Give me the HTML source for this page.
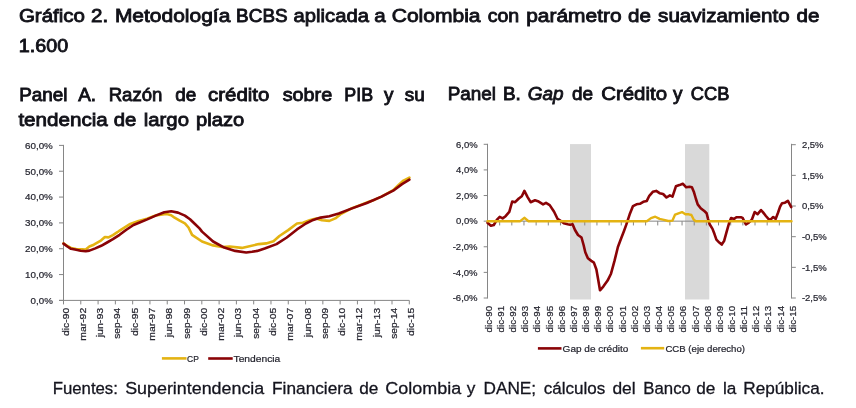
<!DOCTYPE html>
<html><head><meta charset="utf-8"><title>Gráfico 2</title>
<style>
html,body{margin:0;padding:0;background:#fff;}
body{width:856px;height:408px;overflow:hidden;}
svg{display:block;font-family:"Liberation Sans",Arial,sans-serif;}
</style></head><body>
<svg width="856" height="408" viewBox="0 0 856 408">
<rect width="856" height="408" fill="#fff"/>
<text x="18.90" y="21.8" font-size="18.5" font-style="normal" fill="#111118" stroke="#111118" stroke-width="0.85" textLength="66.16" lengthAdjust="spacingAndGlyphs">Gráfico</text>
<text x="91.07" y="21.8" font-size="18.5" font-style="normal" fill="#111118" stroke="#111118" stroke-width="0.85" textLength="17.14" lengthAdjust="spacingAndGlyphs">2.</text>
<text x="114.90" y="21.8" font-size="18.5" font-style="normal" fill="#111118" stroke="#111118" stroke-width="0.85" textLength="115.48" lengthAdjust="spacingAndGlyphs">Metodología</text>
<text x="236.14" y="21.8" font-size="18.5" font-style="normal" fill="#111118" stroke="#111118" stroke-width="0.85" textLength="51.49" lengthAdjust="spacingAndGlyphs">BCBS</text>
<text x="293.60" y="21.8" font-size="18.5" font-style="normal" fill="#111118" stroke="#111118" stroke-width="0.85" textLength="75.30" lengthAdjust="spacingAndGlyphs">aplicada</text>
<text x="374.25" y="21.8" font-size="18.5" font-style="normal" fill="#111118" stroke="#111118" stroke-width="0.85" textLength="11.43" lengthAdjust="spacingAndGlyphs">a</text>
<text x="391.70" y="21.8" font-size="18.5" font-style="normal" fill="#111118" stroke="#111118" stroke-width="0.85" textLength="88.88" lengthAdjust="spacingAndGlyphs">Colombia</text>
<text x="487.70" y="21.8" font-size="18.5" font-style="normal" fill="#111118" stroke="#111118" stroke-width="0.85" textLength="31.55" lengthAdjust="spacingAndGlyphs">con</text>
<text x="526.20" y="21.8" font-size="18.5" font-style="normal" fill="#111118" stroke="#111118" stroke-width="0.85" textLength="95.45" lengthAdjust="spacingAndGlyphs">parámetro</text>
<text x="628.14" y="21.8" font-size="18.5" font-style="normal" fill="#111118" stroke="#111118" stroke-width="0.85" textLength="22.86" lengthAdjust="spacingAndGlyphs">de</text>
<text x="658.10" y="21.8" font-size="18.5" font-style="normal" fill="#111118" stroke="#111118" stroke-width="0.85" textLength="131.55" lengthAdjust="spacingAndGlyphs">suavizamiento</text>
<text x="796.59" y="21.8" font-size="18.5" font-style="normal" fill="#111118" stroke="#111118" stroke-width="0.85" textLength="22.86" lengthAdjust="spacingAndGlyphs">de</text>
<text x="18.80" y="51.6" font-size="18.5" font-style="normal" fill="#111118" stroke="#111118" stroke-width="0.85" textLength="49.35" lengthAdjust="spacingAndGlyphs">1.600</text>
<text x="19.20" y="100.6" font-size="18.5" font-style="normal" fill="#111118" stroke="#111118" stroke-width="0.85" textLength="48.36" lengthAdjust="spacingAndGlyphs">Panel</text>
<text x="78.27" y="100.6" font-size="18.5" font-style="normal" fill="#111118" stroke="#111118" stroke-width="0.85" textLength="17.86" lengthAdjust="spacingAndGlyphs">A.</text>
<text x="108.70" y="100.6" font-size="18.5" font-style="normal" fill="#111118" stroke="#111118" stroke-width="0.85" textLength="53.71" lengthAdjust="spacingAndGlyphs">Razón</text>
<text x="175.36" y="100.6" font-size="18.5" font-style="normal" fill="#111118" stroke="#111118" stroke-width="0.85" textLength="21.03" lengthAdjust="spacingAndGlyphs">de</text>
<text x="208.07" y="100.6" font-size="18.5" font-style="normal" fill="#111118" stroke="#111118" stroke-width="0.85" textLength="61.29" lengthAdjust="spacingAndGlyphs">crédito</text>
<text x="282.70" y="100.6" font-size="18.5" font-style="normal" fill="#111118" stroke="#111118" stroke-width="0.85" textLength="49.53" lengthAdjust="spacingAndGlyphs">sobre</text>
<text x="344.30" y="100.6" font-size="18.5" font-style="normal" fill="#111118" stroke="#111118" stroke-width="0.85" textLength="28.83" lengthAdjust="spacingAndGlyphs">PIB</text>
<text x="384.12" y="100.6" font-size="18.5" font-style="normal" fill="#111118" stroke="#111118" stroke-width="0.85" textLength="9.45" lengthAdjust="spacingAndGlyphs">y</text>
<text x="404.83" y="100.6" font-size="18.5" font-style="normal" fill="#111118" stroke="#111118" stroke-width="0.85" textLength="19.97" lengthAdjust="spacingAndGlyphs">su</text>
<text x="18.40" y="126.2" font-size="18.5" font-style="normal" fill="#111118" stroke="#111118" stroke-width="0.85" textLength="89.44" lengthAdjust="spacingAndGlyphs">tendencia</text>
<text x="113.73" y="126.2" font-size="18.5" font-style="normal" fill="#111118" stroke="#111118" stroke-width="0.85" textLength="22.60" lengthAdjust="spacingAndGlyphs">de</text>
<text x="143.80" y="126.2" font-size="18.5" font-style="normal" fill="#111118" stroke="#111118" stroke-width="0.85" textLength="45.17" lengthAdjust="spacingAndGlyphs">largo</text>
<text x="196.00" y="126.2" font-size="18.5" font-style="normal" fill="#111118" stroke="#111118" stroke-width="0.85" textLength="48.21" lengthAdjust="spacingAndGlyphs">plazo</text>
<text x="447.70" y="100.4" font-size="18.5" font-style="normal" fill="#111118" stroke="#111118" stroke-width="0.85" textLength="48.36" lengthAdjust="spacingAndGlyphs">Panel</text>
<text x="502.91" y="100.4" font-size="18.5" font-style="normal" fill="#111118" stroke="#111118" stroke-width="0.85" textLength="17.88" lengthAdjust="spacingAndGlyphs">B.</text>
<text x="527.70" y="100.4" font-size="18.5" font-style="italic" fill="#111118" stroke="#111118" stroke-width="0.85" textLength="35.80" lengthAdjust="spacingAndGlyphs">Gap</text>
<text x="571.90" y="100.4" font-size="18.5" font-style="normal" fill="#111118" stroke="#111118" stroke-width="0.85" textLength="21.05" lengthAdjust="spacingAndGlyphs">de</text>
<text x="601.19" y="100.4" font-size="18.5" font-style="normal" fill="#111118" stroke="#111118" stroke-width="0.85" textLength="65.89" lengthAdjust="spacingAndGlyphs">Crédito</text>
<text x="673.12" y="100.4" font-size="18.5" font-style="normal" fill="#111118" stroke="#111118" stroke-width="0.85" textLength="9.46" lengthAdjust="spacingAndGlyphs">y</text>
<text x="690.80" y="100.4" font-size="18.5" font-style="normal" fill="#111118" stroke="#111118" stroke-width="0.85" textLength="38.63" lengthAdjust="spacingAndGlyphs">CCB</text>
<text x="52.70" y="393.7" font-size="17.4" font-style="normal" fill="#14141e" stroke="#14141e" stroke-width="0.3" textLength="65.22" lengthAdjust="spacingAndGlyphs">Fuentes:</text>
<text x="125.20" y="393.7" font-size="17.4" font-style="normal" fill="#14141e" stroke="#14141e" stroke-width="0.3" textLength="139.09" lengthAdjust="spacingAndGlyphs">Superintendencia</text>
<text x="272.10" y="393.7" font-size="17.4" font-style="normal" fill="#14141e" stroke="#14141e" stroke-width="0.3" textLength="80.50" lengthAdjust="spacingAndGlyphs">Financiera</text>
<text x="359.29" y="393.7" font-size="17.4" font-style="normal" fill="#14141e" stroke="#14141e" stroke-width="0.3" textLength="19.15" lengthAdjust="spacingAndGlyphs">de</text>
<text x="385.30" y="393.7" font-size="17.4" font-style="normal" fill="#14141e" stroke="#14141e" stroke-width="0.3" textLength="75.90" lengthAdjust="spacingAndGlyphs">Colombia</text>
<text x="466.80" y="393.7" font-size="17.4" font-style="normal" fill="#14141e" stroke="#14141e" stroke-width="0.3" textLength="8.61" lengthAdjust="spacingAndGlyphs">y</text>
<text x="483.50" y="393.7" font-size="17.4" font-style="normal" fill="#14141e" stroke="#14141e" stroke-width="0.3" textLength="52.62" lengthAdjust="spacingAndGlyphs">DANE;</text>
<text x="543.80" y="393.7" font-size="17.4" font-style="normal" fill="#14141e" stroke="#14141e" stroke-width="0.3" textLength="61.56" lengthAdjust="spacingAndGlyphs">cálculos</text>
<text x="612.40" y="393.7" font-size="17.4" font-style="normal" fill="#14141e" stroke="#14141e" stroke-width="0.3" textLength="23.19" lengthAdjust="spacingAndGlyphs">del</text>
<text x="643.30" y="393.7" font-size="17.4" font-style="normal" fill="#14141e" stroke="#14141e" stroke-width="0.3" textLength="47.61" lengthAdjust="spacingAndGlyphs">Banco</text>
<text x="696.29" y="393.7" font-size="17.4" font-style="normal" fill="#14141e" stroke="#14141e" stroke-width="0.3" textLength="19.15" lengthAdjust="spacingAndGlyphs">de</text>
<text x="722.89" y="393.7" font-size="17.4" font-style="normal" fill="#14141e" stroke="#14141e" stroke-width="0.3" textLength="13.40" lengthAdjust="spacingAndGlyphs">la</text>
<text x="743.30" y="393.7" font-size="17.4" font-style="normal" fill="#14141e" stroke="#14141e" stroke-width="0.3" textLength="81.20" lengthAdjust="spacingAndGlyphs">República.</text>
<line x1="63.5" y1="144.9" x2="63.5" y2="304.4" stroke="#868686" stroke-width="1"/>
<line x1="59.0" y1="300.4" x2="409.3" y2="300.4" stroke="#868686" stroke-width="1"/>
<line x1="59.0" y1="300.4" x2="63.5" y2="300.4" stroke="#868686" stroke-width="1"/>
<text x="52.80" y="303.80" text-anchor="end" font-size="9.7" fill="#262630" stroke="#262630" stroke-width="0.22" textLength="22.2" lengthAdjust="spacingAndGlyphs">0,0%</text>
<line x1="59.0" y1="274.56666666666666" x2="63.5" y2="274.56666666666666" stroke="#868686" stroke-width="1"/>
<text x="52.80" y="277.97" text-anchor="end" font-size="9.7" fill="#262630" stroke="#262630" stroke-width="0.22" textLength="27.8" lengthAdjust="spacingAndGlyphs">10,0%</text>
<line x1="59.0" y1="248.73333333333332" x2="63.5" y2="248.73333333333332" stroke="#868686" stroke-width="1"/>
<text x="52.80" y="252.13" text-anchor="end" font-size="9.7" fill="#262630" stroke="#262630" stroke-width="0.22" textLength="27.8" lengthAdjust="spacingAndGlyphs">20,0%</text>
<line x1="59.0" y1="222.89999999999998" x2="63.5" y2="222.89999999999998" stroke="#868686" stroke-width="1"/>
<text x="52.80" y="226.30" text-anchor="end" font-size="9.7" fill="#262630" stroke="#262630" stroke-width="0.22" textLength="27.8" lengthAdjust="spacingAndGlyphs">30,0%</text>
<line x1="59.0" y1="197.06666666666666" x2="63.5" y2="197.06666666666666" stroke="#868686" stroke-width="1"/>
<text x="52.80" y="200.47" text-anchor="end" font-size="9.7" fill="#262630" stroke="#262630" stroke-width="0.22" textLength="27.8" lengthAdjust="spacingAndGlyphs">40,0%</text>
<line x1="59.0" y1="171.23333333333332" x2="63.5" y2="171.23333333333332" stroke="#868686" stroke-width="1"/>
<text x="52.80" y="174.63" text-anchor="end" font-size="9.7" fill="#262630" stroke="#262630" stroke-width="0.22" textLength="27.8" lengthAdjust="spacingAndGlyphs">50,0%</text>
<line x1="59.0" y1="145.4" x2="63.5" y2="145.4" stroke="#868686" stroke-width="1"/>
<text x="52.80" y="148.80" text-anchor="end" font-size="9.7" fill="#262630" stroke="#262630" stroke-width="0.22" textLength="27.8" lengthAdjust="spacingAndGlyphs">60,0%</text>
<text transform="translate(68.50,307.80) rotate(-90)" text-anchor="end" font-size="9.7" fill="#262630" stroke="#262630" stroke-width="0.22" textLength="28.2" lengthAdjust="spacingAndGlyphs">dic-90</text>
<line x1="80.78999999999999" y1="300.4" x2="80.78999999999999" y2="304.4" stroke="#868686" stroke-width="1"/>
<text transform="translate(85.79,307.80) rotate(-90)" text-anchor="end" font-size="9.7" fill="#262630" stroke="#262630" stroke-width="0.22" textLength="33.0" lengthAdjust="spacingAndGlyphs">mar-92</text>
<line x1="98.08" y1="300.4" x2="98.08" y2="304.4" stroke="#868686" stroke-width="1"/>
<text transform="translate(103.08,307.80) rotate(-90)" text-anchor="end" font-size="9.7" fill="#262630" stroke="#262630" stroke-width="0.22" textLength="29.5" lengthAdjust="spacingAndGlyphs">jun-93</text>
<line x1="115.37" y1="300.4" x2="115.37" y2="304.4" stroke="#868686" stroke-width="1"/>
<text transform="translate(120.37,307.80) rotate(-90)" text-anchor="end" font-size="9.7" fill="#262630" stroke="#262630" stroke-width="0.22" textLength="30.9" lengthAdjust="spacingAndGlyphs">sep-94</text>
<line x1="132.66" y1="300.4" x2="132.66" y2="304.4" stroke="#868686" stroke-width="1"/>
<text transform="translate(137.66,307.80) rotate(-90)" text-anchor="end" font-size="9.7" fill="#262630" stroke="#262630" stroke-width="0.22" textLength="28.2" lengthAdjust="spacingAndGlyphs">dic-95</text>
<line x1="149.95" y1="300.4" x2="149.95" y2="304.4" stroke="#868686" stroke-width="1"/>
<text transform="translate(154.95,307.80) rotate(-90)" text-anchor="end" font-size="9.7" fill="#262630" stroke="#262630" stroke-width="0.22" textLength="33.0" lengthAdjust="spacingAndGlyphs">mar-97</text>
<line x1="167.24" y1="300.4" x2="167.24" y2="304.4" stroke="#868686" stroke-width="1"/>
<text transform="translate(172.24,307.80) rotate(-90)" text-anchor="end" font-size="9.7" fill="#262630" stroke="#262630" stroke-width="0.22" textLength="29.5" lengthAdjust="spacingAndGlyphs">jun-98</text>
<line x1="184.53" y1="300.4" x2="184.53" y2="304.4" stroke="#868686" stroke-width="1"/>
<text transform="translate(189.53,307.80) rotate(-90)" text-anchor="end" font-size="9.7" fill="#262630" stroke="#262630" stroke-width="0.22" textLength="30.9" lengthAdjust="spacingAndGlyphs">sep-99</text>
<line x1="201.82" y1="300.4" x2="201.82" y2="304.4" stroke="#868686" stroke-width="1"/>
<text transform="translate(206.82,307.80) rotate(-90)" text-anchor="end" font-size="9.7" fill="#262630" stroke="#262630" stroke-width="0.22" textLength="28.2" lengthAdjust="spacingAndGlyphs">dic-00</text>
<line x1="219.11" y1="300.4" x2="219.11" y2="304.4" stroke="#868686" stroke-width="1"/>
<text transform="translate(224.11,307.80) rotate(-90)" text-anchor="end" font-size="9.7" fill="#262630" stroke="#262630" stroke-width="0.22" textLength="33.0" lengthAdjust="spacingAndGlyphs">mar-02</text>
<line x1="236.4" y1="300.4" x2="236.4" y2="304.4" stroke="#868686" stroke-width="1"/>
<text transform="translate(241.40,307.80) rotate(-90)" text-anchor="end" font-size="9.7" fill="#262630" stroke="#262630" stroke-width="0.22" textLength="29.5" lengthAdjust="spacingAndGlyphs">jun-03</text>
<line x1="253.69" y1="300.4" x2="253.69" y2="304.4" stroke="#868686" stroke-width="1"/>
<text transform="translate(258.69,307.80) rotate(-90)" text-anchor="end" font-size="9.7" fill="#262630" stroke="#262630" stroke-width="0.22" textLength="30.9" lengthAdjust="spacingAndGlyphs">sep-04</text>
<line x1="270.98" y1="300.4" x2="270.98" y2="304.4" stroke="#868686" stroke-width="1"/>
<text transform="translate(275.98,307.80) rotate(-90)" text-anchor="end" font-size="9.7" fill="#262630" stroke="#262630" stroke-width="0.22" textLength="28.2" lengthAdjust="spacingAndGlyphs">dic-05</text>
<line x1="288.27000000000004" y1="300.4" x2="288.27000000000004" y2="304.4" stroke="#868686" stroke-width="1"/>
<text transform="translate(293.27,307.80) rotate(-90)" text-anchor="end" font-size="9.7" fill="#262630" stroke="#262630" stroke-width="0.22" textLength="33.0" lengthAdjust="spacingAndGlyphs">mar-07</text>
<line x1="305.56" y1="300.4" x2="305.56" y2="304.4" stroke="#868686" stroke-width="1"/>
<text transform="translate(310.56,307.80) rotate(-90)" text-anchor="end" font-size="9.7" fill="#262630" stroke="#262630" stroke-width="0.22" textLength="29.5" lengthAdjust="spacingAndGlyphs">jun-08</text>
<line x1="322.85" y1="300.4" x2="322.85" y2="304.4" stroke="#868686" stroke-width="1"/>
<text transform="translate(327.85,307.80) rotate(-90)" text-anchor="end" font-size="9.7" fill="#262630" stroke="#262630" stroke-width="0.22" textLength="30.9" lengthAdjust="spacingAndGlyphs">sep-09</text>
<line x1="340.14" y1="300.4" x2="340.14" y2="304.4" stroke="#868686" stroke-width="1"/>
<text transform="translate(345.14,307.80) rotate(-90)" text-anchor="end" font-size="9.7" fill="#262630" stroke="#262630" stroke-width="0.22" textLength="28.2" lengthAdjust="spacingAndGlyphs">dic-10</text>
<line x1="357.43" y1="300.4" x2="357.43" y2="304.4" stroke="#868686" stroke-width="1"/>
<text transform="translate(362.43,307.80) rotate(-90)" text-anchor="end" font-size="9.7" fill="#262630" stroke="#262630" stroke-width="0.22" textLength="33.0" lengthAdjust="spacingAndGlyphs">mar-12</text>
<line x1="374.72" y1="300.4" x2="374.72" y2="304.4" stroke="#868686" stroke-width="1"/>
<text transform="translate(379.72,307.80) rotate(-90)" text-anchor="end" font-size="9.7" fill="#262630" stroke="#262630" stroke-width="0.22" textLength="29.5" lengthAdjust="spacingAndGlyphs">jun-13</text>
<line x1="392.01" y1="300.4" x2="392.01" y2="304.4" stroke="#868686" stroke-width="1"/>
<text transform="translate(397.01,307.80) rotate(-90)" text-anchor="end" font-size="9.7" fill="#262630" stroke="#262630" stroke-width="0.22" textLength="30.9" lengthAdjust="spacingAndGlyphs">sep-14</text>
<line x1="409.3" y1="300.4" x2="409.3" y2="304.4" stroke="#868686" stroke-width="1"/>
<text transform="translate(414.30,307.80) rotate(-90)" text-anchor="end" font-size="9.7" fill="#262630" stroke="#262630" stroke-width="0.22" textLength="28.2" lengthAdjust="spacingAndGlyphs">dic-15</text>
<polyline points="63.5,243.4 67.4,246.0 71.0,248.0 76.2,249.0 82.0,249.3 85.7,249.5 89.4,246.5 93.8,244.7 98.2,242.1 101.2,240.3 104.9,237.0 108.5,237.4 112.9,235.1 117.4,232.2 120.0,230.4 129.5,224.3 138.6,221.0 147.0,218.8 155.7,215.4 164.3,214.3 167.7,214.3 171.2,215.2 174.6,217.7 179.7,220.7 184.9,223.3 188.5,227.5 192.1,234.9 202.0,241.5 213.1,245.4 222.0,247.0 229.7,246.5 241.8,247.9 248.4,246.5 258.8,244.1 266.2,243.4 273.5,241.2 279.4,236.0 288.2,230.1 297.0,223.5 302.9,222.8 310.3,219.9 316.2,218.4 322.0,220.3 329.4,220.9 335.3,218.4 340.3,214.4 352.0,208.2 362.0,204.4 367.5,202.2 374.1,199.9 381.5,196.6 393.2,190.2 399.1,184.4 403.5,180.6 409.4,177.6" fill="none" stroke="#e4b312" stroke-width="2.6" stroke-linejoin="round" stroke-linecap="round"/>
<polyline points="63.5,243.6 67.4,246.5 71.0,248.8 76.2,249.7 80.6,250.7 85.7,251.2 89.4,250.6 95.3,248.4 101.2,245.8 107.1,242.5 112.9,239.2 119.6,234.8 126.0,230.0 133.5,225.0 139.0,222.8 147.2,219.4 155.7,215.6 164.3,212.2 171.2,211.3 178.0,212.6 184.9,215.6 190.0,219.2 195.2,224.2 199.5,228.4 202.0,231.6 213.1,241.5 224.2,247.6 235.2,250.9 246.2,252.5 252.0,251.8 257.3,250.9 264.7,248.5 276.5,244.1 286.8,237.5 297.0,229.4 305.9,223.5 313.2,219.9 320.6,217.6 329.4,216.3 338.8,213.5 352.0,208.4 366.8,203.0 381.5,196.6 393.2,190.7 402.0,184.1 409.4,179.7" fill="none" stroke="#8a0306" stroke-width="2.6" stroke-linejoin="round" stroke-linecap="round"/>
<line x1="161.9" y1="358.4" x2="186.5" y2="358.4" stroke="#e4b312" stroke-width="2.6"/>
<text x="187.00" y="361.90" text-anchor="start" font-size="9.7" fill="#262630" stroke="#262630" stroke-width="0.22" textLength="11.8" lengthAdjust="spacingAndGlyphs">CP</text>
<line x1="208.2" y1="358.5" x2="232.7" y2="358.5" stroke="#8a0306" stroke-width="2.6"/>
<text x="233.50" y="361.90" text-anchor="start" font-size="9.7" fill="#262630" stroke="#262630" stroke-width="0.22" textLength="46.8" lengthAdjust="spacingAndGlyphs">Tendencia</text>
<rect x="570.0" y="144.1" width="21.0" height="155.4" fill="#d9d9d9"/>
<rect x="685.0" y="144.1" width="24.3" height="155.4" fill="#d9d9d9"/>
<line x1="487.5" y1="143.8" x2="487.5" y2="298.5" stroke="#868686" stroke-width="1"/>
<line x1="791.5" y1="143.8" x2="791.5" y2="298.5" stroke="#868686" stroke-width="1"/>
<line x1="483.7" y1="144.3" x2="487.5" y2="144.3" stroke="#868686" stroke-width="1"/>
<text x="477.60" y="147.60" text-anchor="end" font-size="9.7" fill="#262630" stroke="#262630" stroke-width="0.22" textLength="21.6" lengthAdjust="spacingAndGlyphs">6,0%</text>
<line x1="483.7" y1="169.91666666666669" x2="487.5" y2="169.91666666666669" stroke="#868686" stroke-width="1"/>
<text x="477.60" y="173.22" text-anchor="end" font-size="9.7" fill="#262630" stroke="#262630" stroke-width="0.22" textLength="21.6" lengthAdjust="spacingAndGlyphs">4,0%</text>
<line x1="483.7" y1="195.53333333333333" x2="487.5" y2="195.53333333333333" stroke="#868686" stroke-width="1"/>
<text x="477.60" y="198.83" text-anchor="end" font-size="9.7" fill="#262630" stroke="#262630" stroke-width="0.22" textLength="21.6" lengthAdjust="spacingAndGlyphs">2,0%</text>
<line x1="483.7" y1="221.15" x2="487.5" y2="221.15" stroke="#868686" stroke-width="1"/>
<text x="477.60" y="224.45" text-anchor="end" font-size="9.7" fill="#262630" stroke="#262630" stroke-width="0.22" textLength="21.6" lengthAdjust="spacingAndGlyphs">0,0%</text>
<line x1="483.7" y1="246.76666666666665" x2="487.5" y2="246.76666666666665" stroke="#868686" stroke-width="1"/>
<text x="477.60" y="250.07" text-anchor="end" font-size="9.7" fill="#262630" stroke="#262630" stroke-width="0.22" textLength="24.9" lengthAdjust="spacingAndGlyphs">-2,0%</text>
<line x1="483.7" y1="272.3833333333333" x2="487.5" y2="272.3833333333333" stroke="#868686" stroke-width="1"/>
<text x="477.60" y="275.68" text-anchor="end" font-size="9.7" fill="#262630" stroke="#262630" stroke-width="0.22" textLength="24.9" lengthAdjust="spacingAndGlyphs">-4,0%</text>
<line x1="483.7" y1="298.0" x2="487.5" y2="298.0" stroke="#868686" stroke-width="1"/>
<text x="477.60" y="301.30" text-anchor="end" font-size="9.7" fill="#262630" stroke="#262630" stroke-width="0.22" textLength="24.9" lengthAdjust="spacingAndGlyphs">-6,0%</text>
<line x1="791.5" y1="144.7" x2="795.8" y2="144.7" stroke="#868686" stroke-width="1"/>
<text x="801.90" y="148.00" text-anchor="start" font-size="9.7" fill="#262630" stroke="#262630" stroke-width="0.22" textLength="21.6" lengthAdjust="spacingAndGlyphs">2,5%</text>
<line x1="791.5" y1="175.35999999999999" x2="795.8" y2="175.35999999999999" stroke="#868686" stroke-width="1"/>
<text x="801.90" y="178.66" text-anchor="start" font-size="9.7" fill="#262630" stroke="#262630" stroke-width="0.22" textLength="21.6" lengthAdjust="spacingAndGlyphs">1,5%</text>
<line x1="791.5" y1="206.01999999999998" x2="795.8" y2="206.01999999999998" stroke="#868686" stroke-width="1"/>
<text x="801.90" y="209.32" text-anchor="start" font-size="9.7" fill="#262630" stroke="#262630" stroke-width="0.22" textLength="21.6" lengthAdjust="spacingAndGlyphs">0,5%</text>
<line x1="791.5" y1="236.68" x2="795.8" y2="236.68" stroke="#868686" stroke-width="1"/>
<text x="801.90" y="239.98" text-anchor="start" font-size="9.7" fill="#262630" stroke="#262630" stroke-width="0.22" textLength="24.9" lengthAdjust="spacingAndGlyphs">-0,5%</text>
<line x1="791.5" y1="267.34000000000003" x2="795.8" y2="267.34000000000003" stroke="#868686" stroke-width="1"/>
<text x="801.90" y="270.64" text-anchor="start" font-size="9.7" fill="#262630" stroke="#262630" stroke-width="0.22" textLength="24.9" lengthAdjust="spacingAndGlyphs">-1,5%</text>
<line x1="791.5" y1="298.0" x2="795.8" y2="298.0" stroke="#868686" stroke-width="1"/>
<text x="801.90" y="301.30" text-anchor="start" font-size="9.7" fill="#262630" stroke="#262630" stroke-width="0.22" textLength="24.9" lengthAdjust="spacingAndGlyphs">-2,5%</text>
<line x1="487.5" y1="221.15" x2="791.5" y2="221.15" stroke="#868686" stroke-width="1"/>
<line x1="487.5" y1="221.15" x2="487.5" y2="225.45000000000002" stroke="#868686" stroke-width="1"/>
<text transform="translate(491.80,305.80) rotate(-90)" text-anchor="end" font-size="9.7" fill="#262630" stroke="#262630" stroke-width="0.22" textLength="26.7" lengthAdjust="spacingAndGlyphs">dic-90</text>
<line x1="499.66" y1="221.15" x2="499.66" y2="225.45000000000002" stroke="#868686" stroke-width="1"/>
<text transform="translate(503.96,305.80) rotate(-90)" text-anchor="end" font-size="9.7" fill="#262630" stroke="#262630" stroke-width="0.22" textLength="26.7" lengthAdjust="spacingAndGlyphs">dic-91</text>
<line x1="511.82" y1="221.15" x2="511.82" y2="225.45000000000002" stroke="#868686" stroke-width="1"/>
<text transform="translate(516.12,305.80) rotate(-90)" text-anchor="end" font-size="9.7" fill="#262630" stroke="#262630" stroke-width="0.22" textLength="26.7" lengthAdjust="spacingAndGlyphs">dic-92</text>
<line x1="523.98" y1="221.15" x2="523.98" y2="225.45000000000002" stroke="#868686" stroke-width="1"/>
<text transform="translate(528.28,305.80) rotate(-90)" text-anchor="end" font-size="9.7" fill="#262630" stroke="#262630" stroke-width="0.22" textLength="26.7" lengthAdjust="spacingAndGlyphs">dic-93</text>
<line x1="536.14" y1="221.15" x2="536.14" y2="225.45000000000002" stroke="#868686" stroke-width="1"/>
<text transform="translate(540.44,305.80) rotate(-90)" text-anchor="end" font-size="9.7" fill="#262630" stroke="#262630" stroke-width="0.22" textLength="26.7" lengthAdjust="spacingAndGlyphs">dic-94</text>
<line x1="548.3" y1="221.15" x2="548.3" y2="225.45000000000002" stroke="#868686" stroke-width="1"/>
<text transform="translate(552.60,305.80) rotate(-90)" text-anchor="end" font-size="9.7" fill="#262630" stroke="#262630" stroke-width="0.22" textLength="26.7" lengthAdjust="spacingAndGlyphs">dic-95</text>
<line x1="560.46" y1="221.15" x2="560.46" y2="225.45000000000002" stroke="#868686" stroke-width="1"/>
<text transform="translate(564.76,305.80) rotate(-90)" text-anchor="end" font-size="9.7" fill="#262630" stroke="#262630" stroke-width="0.22" textLength="26.7" lengthAdjust="spacingAndGlyphs">dic-96</text>
<line x1="572.62" y1="221.15" x2="572.62" y2="225.45000000000002" stroke="#868686" stroke-width="1"/>
<text transform="translate(576.92,305.80) rotate(-90)" text-anchor="end" font-size="9.7" fill="#262630" stroke="#262630" stroke-width="0.22" textLength="26.7" lengthAdjust="spacingAndGlyphs">dic-97</text>
<line x1="584.78" y1="221.15" x2="584.78" y2="225.45000000000002" stroke="#868686" stroke-width="1"/>
<text transform="translate(589.08,305.80) rotate(-90)" text-anchor="end" font-size="9.7" fill="#262630" stroke="#262630" stroke-width="0.22" textLength="26.7" lengthAdjust="spacingAndGlyphs">dic-98</text>
<line x1="596.94" y1="221.15" x2="596.94" y2="225.45000000000002" stroke="#868686" stroke-width="1"/>
<text transform="translate(601.24,305.80) rotate(-90)" text-anchor="end" font-size="9.7" fill="#262630" stroke="#262630" stroke-width="0.22" textLength="26.7" lengthAdjust="spacingAndGlyphs">dic-99</text>
<line x1="609.1" y1="221.15" x2="609.1" y2="225.45000000000002" stroke="#868686" stroke-width="1"/>
<text transform="translate(613.40,305.80) rotate(-90)" text-anchor="end" font-size="9.7" fill="#262630" stroke="#262630" stroke-width="0.22" textLength="26.7" lengthAdjust="spacingAndGlyphs">dic-00</text>
<line x1="621.26" y1="221.15" x2="621.26" y2="225.45000000000002" stroke="#868686" stroke-width="1"/>
<text transform="translate(625.56,305.80) rotate(-90)" text-anchor="end" font-size="9.7" fill="#262630" stroke="#262630" stroke-width="0.22" textLength="26.7" lengthAdjust="spacingAndGlyphs">dic-01</text>
<line x1="633.42" y1="221.15" x2="633.42" y2="225.45000000000002" stroke="#868686" stroke-width="1"/>
<text transform="translate(637.72,305.80) rotate(-90)" text-anchor="end" font-size="9.7" fill="#262630" stroke="#262630" stroke-width="0.22" textLength="26.7" lengthAdjust="spacingAndGlyphs">dic-02</text>
<line x1="645.58" y1="221.15" x2="645.58" y2="225.45000000000002" stroke="#868686" stroke-width="1"/>
<text transform="translate(649.88,305.80) rotate(-90)" text-anchor="end" font-size="9.7" fill="#262630" stroke="#262630" stroke-width="0.22" textLength="26.7" lengthAdjust="spacingAndGlyphs">dic-03</text>
<line x1="657.74" y1="221.15" x2="657.74" y2="225.45000000000002" stroke="#868686" stroke-width="1"/>
<text transform="translate(662.04,305.80) rotate(-90)" text-anchor="end" font-size="9.7" fill="#262630" stroke="#262630" stroke-width="0.22" textLength="26.7" lengthAdjust="spacingAndGlyphs">dic-04</text>
<line x1="669.9" y1="221.15" x2="669.9" y2="225.45000000000002" stroke="#868686" stroke-width="1"/>
<text transform="translate(674.20,305.80) rotate(-90)" text-anchor="end" font-size="9.7" fill="#262630" stroke="#262630" stroke-width="0.22" textLength="26.7" lengthAdjust="spacingAndGlyphs">dic-05</text>
<line x1="682.06" y1="221.15" x2="682.06" y2="225.45000000000002" stroke="#868686" stroke-width="1"/>
<text transform="translate(686.36,305.80) rotate(-90)" text-anchor="end" font-size="9.7" fill="#262630" stroke="#262630" stroke-width="0.22" textLength="26.7" lengthAdjust="spacingAndGlyphs">dic-06</text>
<line x1="694.22" y1="221.15" x2="694.22" y2="225.45000000000002" stroke="#868686" stroke-width="1"/>
<text transform="translate(698.52,305.80) rotate(-90)" text-anchor="end" font-size="9.7" fill="#262630" stroke="#262630" stroke-width="0.22" textLength="26.7" lengthAdjust="spacingAndGlyphs">dic-07</text>
<line x1="706.38" y1="221.15" x2="706.38" y2="225.45000000000002" stroke="#868686" stroke-width="1"/>
<text transform="translate(710.68,305.80) rotate(-90)" text-anchor="end" font-size="9.7" fill="#262630" stroke="#262630" stroke-width="0.22" textLength="26.7" lengthAdjust="spacingAndGlyphs">dic-08</text>
<line x1="718.54" y1="221.15" x2="718.54" y2="225.45000000000002" stroke="#868686" stroke-width="1"/>
<text transform="translate(722.84,305.80) rotate(-90)" text-anchor="end" font-size="9.7" fill="#262630" stroke="#262630" stroke-width="0.22" textLength="26.7" lengthAdjust="spacingAndGlyphs">dic-09</text>
<line x1="730.7" y1="221.15" x2="730.7" y2="225.45000000000002" stroke="#868686" stroke-width="1"/>
<text transform="translate(735.00,305.80) rotate(-90)" text-anchor="end" font-size="9.7" fill="#262630" stroke="#262630" stroke-width="0.22" textLength="26.7" lengthAdjust="spacingAndGlyphs">dic-10</text>
<line x1="742.86" y1="221.15" x2="742.86" y2="225.45000000000002" stroke="#868686" stroke-width="1"/>
<text transform="translate(747.16,305.80) rotate(-90)" text-anchor="end" font-size="9.7" fill="#262630" stroke="#262630" stroke-width="0.22" textLength="26.7" lengthAdjust="spacingAndGlyphs">dic-11</text>
<line x1="755.02" y1="221.15" x2="755.02" y2="225.45000000000002" stroke="#868686" stroke-width="1"/>
<text transform="translate(759.32,305.80) rotate(-90)" text-anchor="end" font-size="9.7" fill="#262630" stroke="#262630" stroke-width="0.22" textLength="26.7" lengthAdjust="spacingAndGlyphs">dic-12</text>
<line x1="767.1800000000001" y1="221.15" x2="767.1800000000001" y2="225.45000000000002" stroke="#868686" stroke-width="1"/>
<text transform="translate(771.48,305.80) rotate(-90)" text-anchor="end" font-size="9.7" fill="#262630" stroke="#262630" stroke-width="0.22" textLength="26.7" lengthAdjust="spacingAndGlyphs">dic-13</text>
<line x1="779.3399999999999" y1="221.15" x2="779.3399999999999" y2="225.45000000000002" stroke="#868686" stroke-width="1"/>
<text transform="translate(783.64,305.80) rotate(-90)" text-anchor="end" font-size="9.7" fill="#262630" stroke="#262630" stroke-width="0.22" textLength="26.7" lengthAdjust="spacingAndGlyphs">dic-14</text>
<line x1="791.5" y1="221.15" x2="791.5" y2="225.45000000000002" stroke="#868686" stroke-width="1"/>
<text transform="translate(795.80,305.80) rotate(-90)" text-anchor="end" font-size="9.7" fill="#262630" stroke="#262630" stroke-width="0.22" textLength="26.7" lengthAdjust="spacingAndGlyphs">dic-15</text>
<polyline points="487.5,222.8 490.9,225.7 493.8,225.0 496.8,219.9 499.7,216.9 502.6,218.4 505.6,216.2 509.3,211.8 512.2,201.5 515.1,202.2 518.8,198.5 521.8,196.3 524.4,190.9 527.6,197.1 530.6,202.2 535.0,200.3 537.9,201.2 543.1,204.4 546.0,202.9 549.7,205.1 554.1,211.8 557.5,218.8 559.9,220.3 563.8,223.2 567.7,224.2 570.2,224.7 572.6,224.2 575.0,230.0 578.0,235.0 581.5,237.5 583.6,245.0 585.3,252.3 587.9,258.3 591.3,260.9 593.9,262.6 596.4,269.5 598.2,279.7 600.0,290.3 603.3,286.6 607.6,280.6 611.0,273.7 614.5,260.9 617.9,247.0 621.0,238.8 624.0,231.0 626.2,224.9 629.6,214.6 633.0,206.1 636.5,204.3 639.9,203.8 643.3,201.8 646.8,200.9 649.3,195.8 652.8,191.8 656.2,190.9 659.6,193.2 663.1,194.0 666.5,197.5 669.9,195.4 672.5,196.6 675.9,186.3 679.4,185.1 682.8,183.7 686.2,187.3 689.7,186.8 691.9,187.2 693.8,191.7 695.8,198.5 697.7,204.4 700.7,208.3 704.6,211.3 706.6,213.2 708.1,219.1 709.5,224.0 712.5,228.9 714.4,233.8 716.4,239.7 719.3,242.6 721.7,244.6 724.2,240.7 726.6,231.9 729.1,223.0 731.1,218.1 734.0,219.1 736.4,217.2 740.9,217.2 742.6,217.9 745.9,224.5 748.8,222.6 751.8,219.7 754.7,212.0 757.6,214.2 761.0,210.1 762.9,212.1 765.9,216.0 769.3,219.9 771.3,218.9 773.2,217.0 775.7,218.9 778.1,212.5 780.1,206.7 782.1,203.2 785.0,202.7 787.9,200.8 789.4,203.7 791.2,207.2" fill="none" stroke="#8a0306" stroke-width="2.6" stroke-linejoin="round" stroke-linecap="round"/>
<polyline points="487.5,221.2 520.2,221.2 524.3,217.8 528.5,221.2 646.8,221.2 651.0,218.1 655.3,216.7 659.6,218.9 663.9,219.8 668.2,221.0 672.5,220.6 675.1,214.6 678.5,213.3 682.0,212.1 685.4,214.3 688.8,214.3 691.4,215.0 693.8,219.7 695.8,221.2 791.5,221.2" fill="none" stroke="#e4b312" stroke-width="2.4" stroke-linejoin="round" stroke-linecap="round"/>
<line x1="537.9" y1="348.4" x2="561.5" y2="348.4" stroke="#8a0306" stroke-width="2.6"/>
<text x="562.60" y="351.80" text-anchor="start" font-size="9.7" fill="#262630" stroke="#262630" stroke-width="0.22" textLength="65.7" lengthAdjust="spacingAndGlyphs">Gap de crédito</text>
<line x1="640.9" y1="348.2" x2="664.2" y2="348.2" stroke="#e4b312" stroke-width="2.6"/>
<text x="665.40" y="351.80" text-anchor="start" font-size="9.7" fill="#262630" stroke="#262630" stroke-width="0.22" textLength="79.6" lengthAdjust="spacingAndGlyphs">CCB (eje derecho)</text>
</svg>
</body></html>
